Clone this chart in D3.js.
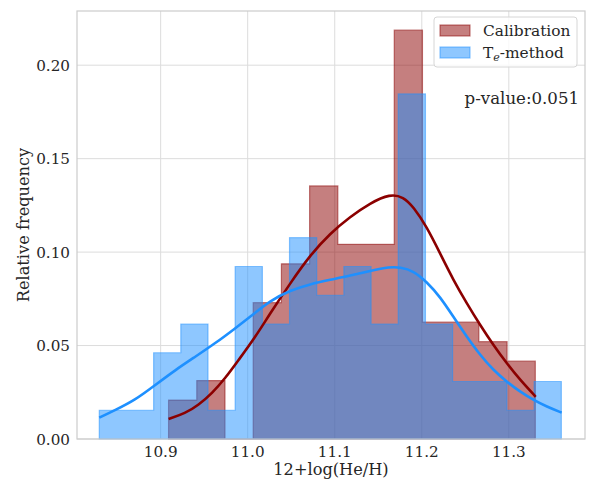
<!DOCTYPE html>
<html>
<head>
<meta charset="utf-8">
<script src="https://cdn.jsdelivr.net/npm/d3@7"></script>
<style>
  body { margin: 0; background: #fff; }
  svg { display: block; font-family: "DejaVu Serif", serif; }
</style>
</head>
<body>
<svg id="chart" width="590" height="482"></svg>
<script>
// Histogram bins: first edge, last edge and counts per equal-width bin
const calibRange = [10.9091, 11.3304];
const calibCounts = [2, 3, 0, 7, 9, 13, 10, 10, 21, 6, 6, 5, 4];
const teRange = [10.8295, 11.3603];
const teCounts = [1, 1, 3, 4, 1, 6, 4, 7, 5, 6, 4, 12, 4, 2, 2, 1, 2];

// Kernel density curves (x, relative frequency)
const calibKde = [
  [10.9091, 0.0107], [10.9282, 0.0137], [10.9435, 0.0182], [10.9589, 0.0244],
  [10.9742, 0.0325], [10.9894, 0.0422], [11.0078, 0.0539], [11.0258, 0.0672],
  [11.0488, 0.0833], [11.0718, 0.0984], [11.0947, 0.1100], [11.1177, 0.1189],
  [11.1406, 0.1262], [11.1636, 0.1312], [11.1789, 0.1295], [11.1904, 0.1242],
  [11.2057, 0.1135], [11.2210, 0.0993], [11.2363, 0.0850], [11.2517, 0.0726],
  [11.2670, 0.0610], [11.2822, 0.0503], [11.2976, 0.0405], [11.3129, 0.0316],
  [11.3309, 0.0226]
];
const teKde = [
  [10.8295, 0.0114], [10.8479, 0.0155], [10.8708, 0.0209], [10.8938, 0.0289],
  [10.9168, 0.0369], [10.9397, 0.0440], [10.9627, 0.0512], [10.9856, 0.0592],
  [11.0029, 0.0654], [11.0258, 0.0740], [11.0488, 0.0795], [11.0718, 0.0829],
  [11.0947, 0.0852], [11.1177, 0.0874], [11.1406, 0.0900], [11.1636, 0.0921],
  [11.1751, 0.0919], [11.1904, 0.0900], [11.2057, 0.0841], [11.2210, 0.0761],
  [11.2363, 0.0654], [11.2517, 0.0547], [11.2670, 0.0449], [11.2822, 0.0369],
  [11.2976, 0.0306], [11.3129, 0.0253], [11.3281, 0.0209], [11.3435, 0.0173],
  [11.3607, 0.0141]
];

const xTicks = [10.9, 11.0, 11.1, 11.2, 11.3];
const yTicks = [0.00, 0.05, 0.10, 0.15, 0.20];
const pValue = "0.051";

const svg = d3.select("#chart");
const plot = { left: 77, right: 585, top: 11, bottom: 439 };

const x = d3.scaleLinear().domain([10.8039, 11.3875]).range([plot.left, plot.right]);
const y = d3.scaleLinear().domain([0, 0.229]).range([plot.bottom, plot.top]);

const textColor = "#262626";
const gridColor = "#dcdcdc";

// grid
const grid = svg.append("g");
grid.selectAll(".gx").data(xTicks).enter().append("line")
  .attr("x1", d => x(d)).attr("x2", d => x(d))
  .attr("y1", plot.top).attr("y2", plot.bottom)
  .attr("stroke", gridColor).attr("stroke-width", 1);
grid.selectAll(".gy").data(yTicks).enter().append("line")
  .attr("x1", plot.left).attr("x2", plot.right)
  .attr("y1", d => y(d)).attr("y2", d => y(d))
  .attr("stroke", gridColor).attr("stroke-width", 1);

// build a step outline polygon from binned counts
function stepPoints(range, counts) {
  const total = d3.sum(counts);
  const w = (range[1] - range[0]) / counts.length;
  const pts = [[range[0], 0]];
  counts.forEach((c, i) => {
    const x0 = range[0] + i * w, x1 = x0 + w;
    pts.push([x0, c / total], [x1, c / total]);
  });
  pts.push([range[1], 0]);
  return pts;
}

const area = d3.line().x(d => x(d[0])).y(d => y(d[1]));

function drawHist(range, counts, fill, edge) {
  svg.append("path")
    .attr("d", area(stepPoints(range, counts)) + "Z")
    .attr("fill", fill).attr("fill-opacity", 0.5)
    .attr("stroke", edge).attr("stroke-opacity", 0.5)
    .attr("stroke-width", 1.2).attr("stroke-linejoin", "miter");
}

drawHist(calibRange, calibCounts, "#8b0000", "#8b0000");
drawHist(teRange, teCounts, "#1e90ff", "#1e90ff");

// density curves
const curve = d3.line().x(d => x(d[0])).y(d => y(d[1])).curve(d3.curveBasis);
svg.append("path").attr("d", curve(calibKde))
  .attr("fill", "none").attr("stroke", "#8b0000").attr("stroke-width", 2.6);
svg.append("path").attr("d", curve(teKde))
  .attr("fill", "none").attr("stroke", "#1e90ff").attr("stroke-width", 2.6);

// frame
svg.append("rect")
  .attr("x", plot.left).attr("y", plot.top)
  .attr("width", plot.right - plot.left).attr("height", plot.bottom - plot.top)
  .attr("fill", "none").attr("stroke", "#cccccc").attr("stroke-width", 1.2);

// tick labels
const tickFs = 15.2;
const labelFs = 16.2;
svg.selectAll(".xt").data(xTicks).enter().append("text")
  .attr("x", d => x(d)).attr("y", 457)
  .attr("text-anchor", "middle").attr("font-size", tickFs).attr("fill", textColor)
  .text(d => d.toFixed(1));
svg.selectAll(".yt").data(yTicks).enter().append("text")
  .attr("x", 70).attr("y", d => y(d) + 5.5)
  .attr("text-anchor", "end").attr("font-size", tickFs).attr("fill", textColor)
  .text(d => d.toFixed(2));

// axis titles
svg.append("text")
  .attr("x", (plot.left + plot.right) / 2).attr("y", 475)
  .attr("text-anchor", "middle").attr("font-size", labelFs).attr("fill", textColor)
  .text("12+log(He/H)");
svg.append("text")
  .attr("transform", `translate(29, ${(plot.top + plot.bottom) / 2}) rotate(-90)`)
  .attr("text-anchor", "middle").attr("font-size", labelFs).attr("fill", textColor)
  .text("Relative frequency");

// p-value annotation
svg.append("text")
  .attr("x", 579).attr("y", 104)
  .attr("text-anchor", "end").attr("font-size", 16.6).attr("fill", textColor)
  .text("p-value:" + pValue);

// legend
const lg = svg.append("g");
lg.append("rect")
  .attr("x", 434).attr("y", 17).attr("width", 143).attr("height", 50)
  .attr("rx", 3).attr("fill", "#fff").attr("fill-opacity", 0.8)
  .attr("stroke", "#d6d6d6").attr("stroke-width", 1);
const entries = [
  { label: "Calibration", color: "#8b0000" },
  { label: "T", sub: "e", rest: "-method", color: "#1e90ff" }
];
entries.forEach((e, i) => {
  const yy = 25 + i * 22;
  lg.append("rect")
    .attr("x", 440).attr("y", yy).attr("width", 30).attr("height", 11)
    .attr("fill", e.color).attr("fill-opacity", 0.5)
    .attr("stroke", e.color).attr("stroke-opacity", 0.5).attr("stroke-width", 1.2);
  const t = lg.append("text")
    .attr("x", 483).attr("y", yy + 11)
    .attr("font-size", 15.4).attr("fill", textColor);
  if (e.sub) {
    t.append("tspan").text(e.label);
    t.append("tspan").attr("dy", 3).attr("font-size", 11).attr("font-style", "italic").text(e.sub);
    t.append("tspan").attr("dy", -3).text(e.rest);
  } else {
    t.text(e.label);
  }
});
</script>
</body>
</html>
